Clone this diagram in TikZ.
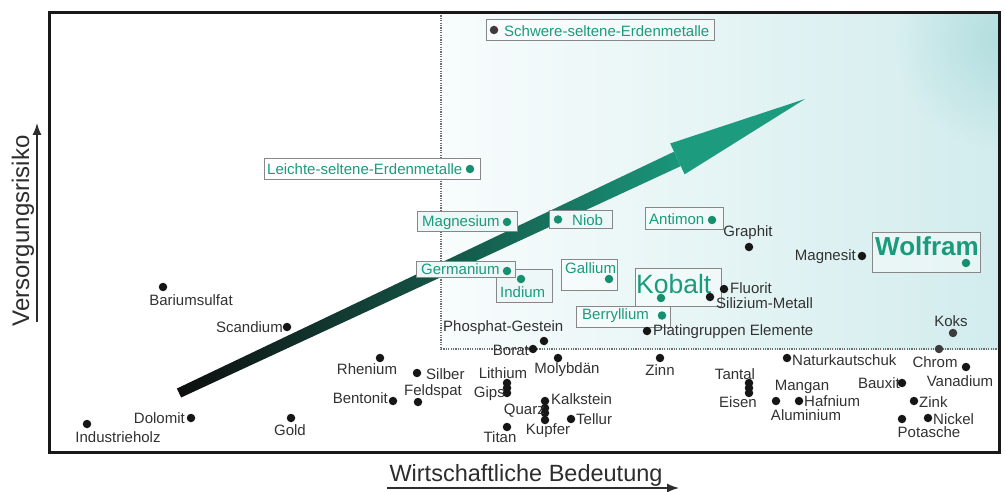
\documentclass[tikz,border=0pt]{standalone}
\usepackage{fontspec}
\setmainfont{Liberation Sans}
\usetikzlibrary{arrows.meta,fadings}
\definecolor{labgray}{RGB}{50,50,50}
\definecolor{labteal}{RGB}{26,155,125}
\definecolor{dotteal}{RGB}{22,142,112}
\definecolor{dotblack}{RGB}{22,22,22}
\definecolor{dotdark}{RGB}{60,60,60}
\definecolor{boxgray}{RGB}{135,135,135}
\definecolor{bgleft}{RGB}{248,252,252}
\definecolor{bgright}{RGB}{210,236,237}
\definecolor{bgcorner}{RGB}{160,214,215}
\definecolor{boxfill}{RGB}{237,247,247}
\definecolor{arrowdark}{RGB}{14,14,14}
\definecolor{arrowmid}{RGB}{38,100,86}
\definecolor{arrowteal}{RGB}{26,150,122}
\definecolor{headteal}{RGB}{28,155,126}
\definecolor{axisgray}{RGB}{45,45,45}
\definecolor{framecol}{RGB}{25,25,25}
\definecolor{qcol}{RGB}{110,110,110}
\tikzfading[name=cornerfade, inner color=transparent!35, outer color=transparent!100]
\begin{document}
\begin{tikzpicture}[x=1pt,y=-1pt,
  lab/.style={inner sep=0pt, font=\fontsize{15}{18}\selectfont, text=labgray},
  tlab/.style={lab, text=labteal},
  biglab/.style={inner sep=0pt, text=labteal, font=\fontsize{26.5}{30}\selectfont},
  dotk/.style={circle, fill=dotblack, inner sep=0pt, minimum size=8.5pt},
  dott/.style={dotk, fill=dotteal},
  lbox/.style={draw=boxgray, line width=1pt, fill=white, fill opacity=0.45},
  lboxo/.style={draw=boxgray, line width=1pt, fill=boxfill},
  qline/.style={draw=qcol, line width=1.2pt, dash pattern=on 1.2pt off 1.2pt},
  axisarrow/.style={draw=axisgray, line width=1.4pt, -{Latex[length=12pt,width=9pt]}},
  axislab/.style={inner sep=0pt, text=axisgray, font=\fontsize{24}{28}\selectfont}]
\useasboundingbox (0,0) rectangle (1005,492);
\fill[white] (0,0) rectangle (1005,492);
% upper right region
\shade[left color=bgleft, right color=bgright] (441,13) rectangle (999,349);
\begin{scope}
  \clip (441,13) rectangle (999,349);
  \fill[bgcorner, path fading=cornerfade] (1005,40) circle (110);
\end{scope}
\draw[qline] (441,13) -- (441,349) -- (999,349);
% big arrow
\shade[left color=arrowdark, middle color=arrowmid, right color=arrowteal]
  (176.9,388.5) -- (674.0,151.7) -- (680.8,166.1) -- (181.1,397.5) -- cycle;
\fill[headteal] (670.2,143.5) -- (805,99) -- (684.6,174.3) -- cycle;
% boxed labels
\draw[lbox] (486,20) rectangle (714,41);
\node[dotk, fill=dotdark] (d-schwere) at (494,30) {};
\node[tlab, anchor=west] (l-schwere) at (504,31) {Schwere-seltene-Erdenmetalle};
\draw[lboxo, fill=white] (264,159) rectangle (480,180);
\node[dott] (d-leichte) at (470,169) {};
\node[tlab, anchor=west] (l-leichte) at (267,169.5) {Leichte-seltene-Erdenmetalle};
\draw[lboxo] (417,212) rectangle (517,232);
\node[dott] (d-magnesium) at (507,222) {};
\node[tlab, anchor=west] (l-magnesium) at (422,222.5) {Magnesium};
\draw[lboxo] (549,211) rectangle (612,229);
\node[dott] (d-niob) at (558,219.5) {};
\node[tlab, anchor=west] (l-niob) at (572,220) {Niob};
\draw[lbox] (645,208) rectangle (723,230);
\node[dott] (d-antimon) at (712,220) {};
\node[tlab, anchor=west] (l-antimon) at (649,219.5) {Antimon};
\draw[lboxo] (496,269) rectangle (552,302);
\node[dott] (d-indium) at (521,279) {};
\node[tlab, anchor=west] (l-indium) at (500,292) {Indium};
\draw[lboxo] (416,261) rectangle (515,277);
\node[dott] (d-germanium) at (507,271) {};
\node[tlab, anchor=west] (l-germanium) at (421,269.5) {Germanium};
\draw[lbox] (561,259) rectangle (617,290);
\node[dott] (d-gallium) at (609,279) {};
\node[tlab, anchor=west] (l-gallium) at (565,268) {Gallium};
\draw[lbox] (635,268) rectangle (721,306);
\node[dott] (d-kobalt) at (661,298) {};
\node[biglab, anchor=west] (l-kobalt) at (636,284) {Kobalt};
\draw[lbox] (576,306) rectangle (670,327);
\node[dott] (d-berryllium) at (662,315.5) {};
\node[tlab, anchor=west] (l-berryllium) at (582,316) {Berryllium};
\draw[lbox] (872,233) rectangle (980,272);
\node[dott] (d-wolfram) at (966,263) {};
\node[biglab, anchor=west, font=\fontsize{26}{30}\selectfont\bfseries] (l-wolfram) at (875,246.5) {Wolfram};
% plain points
\node[dotk] (d-barium) at (163,287) {};
\node[lab] (l-barium) at (191,300) {Bariumsulfat};
\node[dotk] (d-scandium) at (287,327) {};
\node[lab, anchor=east] (l-scandium) at (283,327.5) {Scandium};
\node[dotk] (d-dolomit) at (191,418) {};
\node[lab, anchor=east] (l-dolomit) at (185,418.5) {Dolomit};
\node[dotk] (d-industrie) at (87,424) {};
\node[lab] (l-industrie) at (118,437) {Industrieholz};
\node[dotk] (d-gold) at (291,418) {};
\node[lab] (l-gold) at (290,430) {Gold};
\node[dotk] (d-rhenium) at (380,358) {};
\node[lab] (l-rhenium) at (367,369) {Rhenium};
\node[dotk] (d-bentonit) at (393,401) {};
\node[lab, anchor=east] (l-bentonit) at (388,398.5) {Bentonit};
\node[dotk] (d-silber) at (417,373) {};
\node[lab, anchor=west] (l-silber) at (426,374) {Silber};
\node[dotk] (d-feldspat) at (418,402) {};
\node[lab] (l-feldspat) at (433,392) {Feldspat};
\node[dotk] (d-lithium) at (507,383) {};
\node[dotk] (d-lithgips) at (507,388) {};
\node[dotk] (d-gips) at (507,393) {};
\node[lab] (l-lithium) at (503,373) {Lithium};
\node[lab, anchor=east] (l-gips) at (505,393.5) {Gips};
\node[dotk] (d-kalkstein) at (545,401) {};
\node[dotk] (d-quarz) at (545,408) {};
\node[dotk] (d-quarz2) at (545,413) {};
\node[dotk] (d-kupfer) at (545,420) {};
\node[lab, anchor=west] (l-kalkstein) at (551,399.5) {Kalkstein};
\node[lab, anchor=east] (l-quarz) at (545,410.5) {Quarz};
\node[lab] (l-kupfer) at (548,431) {Kupfer};
\node[dotk] (d-tellur) at (571,419) {};
\node[lab, anchor=west] (l-tellur) at (576,419.5) {Tellur};
\node[dotk] (d-titan) at (507,427) {};
\node[lab] (l-titan) at (500,437) {Titan};
\node[dotk] (d-phosphat) at (544,341) {};
\node[lab, anchor=west] (l-phosphat) at (443,328) {Phosphat-Gestein};
\node[dotk] (d-borat) at (533,349) {};
\node[lab, anchor=east] (l-borat) at (529,350) {Borat};
\node[dotk] (d-molybdan) at (558,358) {};
\node[lab] (l-molybdan) at (567,370) {Molybdän};
\node[dotk] (d-zinn) at (660,358) {};
\node[lab] (l-zinn) at (660,370) {Zinn};
\node[dotk] (d-platin) at (647,331) {};
\node[lab, anchor=west] (l-platin) at (653,332) {Platingruppen Elemente};
\node[dotk] (d-fluorit) at (724,289) {};
\node[lab, anchor=west] (l-fluorit) at (730,288.5) {Fluorit};
\node[dotk] (d-silizium) at (710,297) {};
\node[lab, anchor=west] (l-silizium) at (716,303) {Silizium-Metall};
\node[dotk] (d-graphit) at (749,247) {};
\node[lab] (l-graphit) at (748,233) {Graphit};
\node[dotk] (d-magnesit) at (862,256) {};
\node[lab, anchor=east] (l-magnesit) at (856,256.5) {Magnesit};
\node[dotk, fill=dotdark] (d-koks) at (953,333) {};
\node[lab] (l-koks) at (951,321) {Koks};
\node[dotk, fill=dotdark] (d-chrom) at (939,349) {};
\node[lab] (l-chrom) at (935,362) {Chrom};
\node[dotk] (d-vanadium) at (966,367) {};
\node[lab] (l-vanadium) at (960,381) {Vanadium};
\node[dotk] (d-bauxit) at (902,383) {};
\node[lab, anchor=east] (l-bauxit) at (900,383.5) {Bauxit};
\node[dotk] (d-zink) at (914,401) {};
\node[lab, anchor=west] (l-zink) at (919,402) {Zink};
\node[dotk] (d-nickel) at (928,418) {};
\node[lab, anchor=west] (l-nickel) at (933,419) {Nickel};
\node[dotk] (d-potasche) at (902,419) {};
\node[lab] (l-potasche) at (929,432) {Potasche};
\node[dotk] (d-natur) at (787,358) {};
\node[lab, anchor=west] (l-natur) at (792,360) {Naturkautschuk};
\node[dotk] (d-aluminium) at (776,401) {};
\node[dotk] (d-hafnium) at (799,401) {};
\node[lab] (l-mangan) at (802,387) {Mangan};
\node[lab] (l-aluminium) at (806,415) {Aluminium};
\node[lab, anchor=west] (l-hafnium) at (804,401) {Hafnium};
\node[dotk] (d-tantal) at (749,383) {};
\node[dotk] (d-tantal2) at (749,388) {};
\node[dotk] (d-eisen) at (749,393) {};
\node[lab] (l-tantal) at (735,374) {Tantal};
\node[lab] (l-eisen) at (738,402) {Eisen};
% frame
\draw[framecol, line width=3pt] (49,13) rectangle (999,452);
% axes
\coordinate (ya) at (37,322);
\coordinate (yb) at (37,123);
\coordinate (xa) at (387,488);
\coordinate (xb) at (679,488);
\draw[axisarrow] (ya) -- (yb);
\draw[axisarrow] (xa) -- (xb);
\node[axislab, rotate=90] (l-yaxis) at (23,231) {Versorgungsrisiko};
\node[axislab, font=\fontsize{23.5}{28}\selectfont] (l-xaxis) at (526,475) {Wirtschaftliche Bedeutung};
\end{tikzpicture}
\end{document}
